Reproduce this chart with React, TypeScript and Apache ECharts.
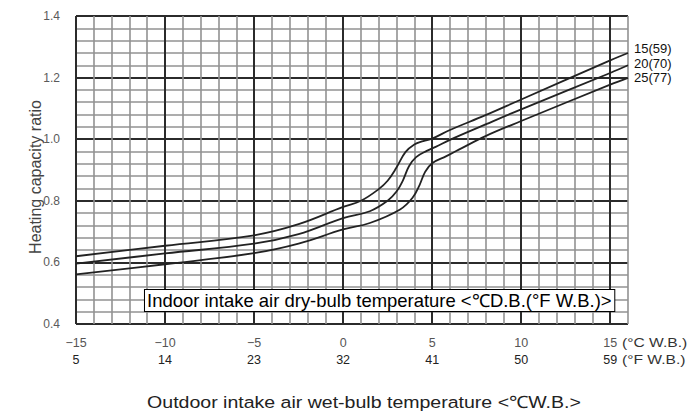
import React, { useEffect, useRef } from "react";
import * as echarts from "echarts";

// Outdoor wet-bulb temperature tick labels
const celsiusTicks = [-15, -10, -5, 0, 5, 10, 15];
const fahrenheitTicks = [5, 14, 23, 32, 41, 50, 59];

// Indoor dry-bulb curves: [outdoor °C W.B., heating capacity ratio]
const curve15: [number, number][] = [
  [-15, 0.62], [-10, 0.654], [-5, 0.688], [-2.5, 0.724], [0, 0.78], [1, 0.8],
  [2, 0.838], [2.5, 0.865], [3, 0.908], [3.5, 0.958], [4, 0.983], [4.5, 0.994],
  [5, 1.002], [6, 1.03], [8, 1.078], [10, 1.129], [15, 1.256], [16, 1.28],
];
const curve20: [number, number][] = [
  [-15, 0.596], [-10, 0.629], [-5, 0.661], [-2.5, 0.692], [0, 0.744], [1.5, 0.766],
  [2.5, 0.8], [3, 0.83], [3.35, 0.865], [3.7, 0.912], [4.1, 0.942], [4.7, 0.962],
  [5.2, 0.975], [6, 0.998], [8, 1.048], [10, 1.097], [15, 1.215], [16, 1.24],
];
const curve25: [number, number][] = [
  [-15, 0.561], [-10, 0.594], [-5, 0.63], [-2.5, 0.661], [0, 0.707], [1.5, 0.728],
  [3.2, 0.772], [3.9, 0.81], [4.3, 0.852], [4.6, 0.893], [5, 0.922], [5.8, 0.945],
  [6.5, 0.966], [8, 1.01], [10, 1.059], [15, 1.177], [16, 1.199],
];
const curveNames = ["15(59)", "20(70)", "25(77)"];

const FONT = "'Liberation Sans', Arial, sans-serif";

export default function App() {
  const ref = useRef<HTMLDivElement>(null);
  useEffect(() => {
    if (!ref.current) return;
    const chart = echarts.init(ref.current, null, { renderer: "svg" });
    const fmap: Record<string, number> = {};
    celsiusTicks.forEach((c, i) => (fmap[String(c)] = fahrenheitTicks[i]));
    const curves = [curve15, curve20, curve25];
    const offsets = [[0, -4], [0, -2], [0, 0]];
    chart.setOption({
      animation: false,
      textStyle: { fontFamily: FONT },
      grid: { left: 76, right: 60, top: 16, bottom: 91 },
      xAxis: [
        {
          type: "value", min: -15, max: 16, interval: 1,
          axisLine: { show: false }, axisTick: { show: false }, axisLabel: { show: false },
          splitLine: { show: true, lineStyle: { color: "#929292", width: 1.6 } },
        },
        {
          type: "value", min: -15, max: 16, interval: 5, position: "bottom",
          axisLine: { show: false }, axisTick: { show: false },
          splitLine: { show: true, showMaxLine: false, lineStyle: { color: "#2b2b2b", width: 2 } },
          axisLabel: {
            margin: 10,
            formatter: (v: number) => {
              const k = String(Math.round(v));
              if (!(k in fmap)) return "";
              const c = Math.round(v) < 0 ? "\u2212" + Math.abs(Math.round(v)) : k;
              return "{c|" + c + "}\n{f|" + fmap[k] + "}";
            },
            rich: {
              c: { fontSize: 12.5, color: "#555", lineHeight: 17, fontFamily: FONT, align: "center" },
              f: { fontSize: 12.5, color: "#222", lineHeight: 17, fontFamily: FONT, align: "center" },
            },
          },
        },
      ],
      yAxis: [
        {
          type: "value", min: 0.4, max: 1.4, interval: 0.04,
          axisLine: { show: false }, axisTick: { show: false }, axisLabel: { show: false },
          splitLine: { show: true, lineStyle: { color: "#929292", width: 1.6 } },
        },
        {
          type: "value", min: 0.4, max: 1.4, interval: 0.2, position: "left",
          axisLine: { show: false }, axisTick: { show: false },
          splitLine: { show: true, lineStyle: { color: "#2b2b2b", width: 2 } },
          axisLabel: {
            margin: 16, color: "#5a5a5a", fontSize: 12, fontFamily: FONT,
            formatter: (v: number) => v.toFixed(1),
          },
        },
      ],
      series: curves.map((d, i) => ({
        type: "line",
        name: curveNames[i],
        data: d,
        xAxisIndex: 1,
        yAxisIndex: 1,
        showSymbol: false,
        symbol: "none",
        smooth: 0.4,
        lineStyle: { color: "#222", width: 1.8 },
        endLabel: {
          show: true,
          formatter: curveNames[i],
          color: "#111",
          fontSize: 13,
          fontFamily: FONT,
          distance: 6,
          offset: offsets[i],
        },
      })),
      graphic: [
        {
          type: "text", x: 35, y: 177, rotation: Math.PI / 2,
          style: {
            text: "Heating capacity ratio", fontSize: 16, fill: "#444", fontFamily: FONT,
            align: "center", verticalAlign: "middle",
          },
        },
        {
          type: "text", x: 364, y: 402, scaleX: 1.15,
          style: {
            text: "Outdoor intake air wet-bulb temperature <\u2103W.B.>", fontSize: 17, fill: "#222",
            fontFamily: FONT, align: "center", verticalAlign: "middle",
          },
        },
        {
          type: "text", x: 622, y: 343, scaleX: 1.25,
          style: { text: "(°C W.B.)", fontSize: 12.5, fill: "#333", fontFamily: FONT, verticalAlign: "middle" },
        },
        {
          type: "text", x: 622, y: 360, scaleX: 1.25,
          style: { text: "(°F W.B.)", fontSize: 12.5, fill: "#333", fontFamily: FONT, verticalAlign: "middle" },
        },
        {
          type: "text", x: 145, y: 290, z: 100, scaleX: 1.026,
          style: {
            text: "Indoor intake air dry-bulb temperature <\u2103D.B.(°F W.B.)>",
            fontSize: 18, fill: "#000", fontFamily: FONT,
            backgroundColor: "#fff", borderColor: "#000", borderWidth: 1,
            padding: [2, 2, 1, 2],
          },
        },
      ],
    });
    return () => chart.dispose();
  }, []);
  return (
    <div
      ref={ref}
      style={{ position: "fixed", left: 0, top: 0, width: 688, height: 415, background: "#fff" }}
    />
  );
}
